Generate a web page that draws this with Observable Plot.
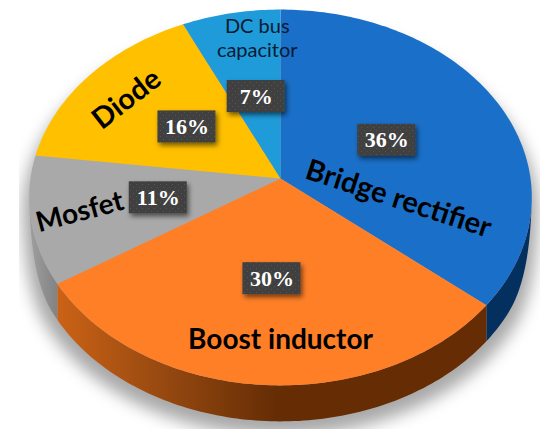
<!DOCTYPE html>
<html>
<head>
<meta charset="utf-8">
<script src="https://cdn.jsdelivr.net/npm/d3@7"></script>
<script src="https://cdn.jsdelivr.net/npm/@observablehq/plot@0.6"></script>
<style>html,body{margin:0;padding:0;background:#fff}svg{display:block}</style>
</head>
<body>
<div id="chart"></div>
<script>
// Data, clockwise from twelve o'clock
const names = ["Bridge rectifier", "Boost inductor", "Mosfet", "Diode", "DC bus capacitor"];
const shares = [36, 30, 11, 16, 7];

// Styles
const topColors = ["#1a6fc8", "#ff7f27", "#a9a9a9", "#ffc000", "#1f9bd9"];
const sideColors = ["#03305f", "url(#orangeSide)", "url(#graySide)", null, null];

// Where each name sits on the disc: degrees clockwise from the top, radius fraction, turn
const nameAngles = [102, 180, 258, 305, 353];
const nameRadii = [0.475, 0.772, 0.805, 0.8, 0.84];
const nameTurns = [18, 0, -15, -38, 0];

// Tilted-disc projection
const view = {cx: 280, cy: 178, a: 250, b: 186, k: 0.101, depth: 36};
function project(deg, r = 1) {
  const t = (deg * Math.PI) / 180, u = Math.sin(t), v = -Math.cos(t), w = 1 - view.k * v;
  return {x: view.cx + (r * view.a * u) / w, y: view.cy + (r * view.b * v) / w};
}
// The wall thins out toward the widest part of the disc
function wallDepth(deg) {
  const v = -Math.cos((deg * Math.PI) / 180);
  const s = Math.max(0, Math.min(1, (v - 0.15) / 0.35));
  return view.depth * s * (2 - s);
}
function arc(from, to) {
  const n = Math.max(2, Math.ceil(Math.abs(to - from)));
  return d3.range(n + 1).map((i) => {
    const deg = from + ((to - from) * i) / n;
    return {...project(deg), deg};
  });
}

let running = 0;
const slices = names.map((name, i) => {
  const start = (running / 100) * 360;
  running += shares[i];
  const end = (running / 100) * 360;
  return {name, share: shares[i], start, end, mid: (start + end) / 2, color: topColors[i], side: sideColors[i]};
});
const sideRange = [[96, slices[0].end], [slices[1].start, slices[1].end], [slices[2].start, 264]];

const facePoints = (s) => [{x: view.cx, y: view.cy}, ...arc(s.start, s.end)];
const sidePoints = ([a, b]) => {
  const rim = arc(a, b);
  return [...rim, ...rim.slice().reverse().map((p) => ({x: p.x, y: p.y + wallDepth(p.deg)}))];
};
const shadowOutline = arc(0, 360).map((p) => ({
  x: view.cx + (p.x - view.cx) * 1.025,
  y: p.y + wallDepth(p.deg) + 14
}));

const withFilter = (id) => (index, scales, values, dims, ctx, next) => {
  const g = next(index, scales, values, dims, ctx);
  g.setAttribute("filter", `url(#${id})`);
  return g;
};

function defs() {
  const d = d3.create("svg:defs");
  const grad = (id, x1, x2, stops) => {
    const g = d.append("linearGradient").attr("id", id).attr("gradientUnits", "userSpaceOnUse")
      .attr("x1", x1).attr("x2", x2).attr("y1", 0).attr("y2", 0);
    stops.forEach(([o, c]) => g.append("stop").attr("offset", o).attr("stop-color", c));
  };
  grad("orangeSide", 57, 275, [[0, "#cb6216"], [0.5, "#954810"], [1, "#662d05"]]);
  grad("graySide", 28, 62, [[0, "#a0a0a0"], [1, "#7d7d7d"]]);
  d.append("filter").attr("id", "discShadow").attr("filterUnits", "userSpaceOnUse")
    .attr("x", 19).attr("y", 0).attr("width", 520).attr("height", 428)
    .append("feGaussianBlur").attr("stdDeviation", 8);
  const shadow = d.append("filter").attr("id", "boxShadow").attr("x", "-30%").attr("y", "-30%")
    .attr("width", "160%").attr("height", "170%");
  shadow.append("feDropShadow").attr("dx", 2).attr("dy", 3).attr("stdDeviation", 2.5)
    .attr("flood-color", "#000").attr("flood-opacity", 0.55);
  const pat = d.append("pattern").attr("id", "dots").attr("patternUnits", "userSpaceOnUse")
    .attr("width", 6).attr("height", 6);
  pat.append("rect").attr("width", 6).attr("height", 6).attr("fill", "#3f3f3f");
  pat.append("rect").attr("x", 1).attr("y", 1).attr("width", 1).attr("height", 1).attr("fill", "#555");
  pat.append("rect").attr("x", 4).attr("y", 4).attr("width", 1).attr("height", 1).attr("fill", "#555");
  return d.node();
}

const boxes = slices.map((s) => ({...project(s.mid, 0.49), share: s.share}));

const marks = [
  defs,
  Plot.line(shadowOutline, {x: "x", y: "y", fill: "#000", fillOpacity: 0.34, stroke: "none", render: withFilter("discShadow")}),
  ...slices.map((s, i) => s.side && Plot.line(sidePoints(sideRange[i]), {x: "x", y: "y", fill: s.side, stroke: "none"})),
  ...slices.map((s) => Plot.line(facePoints(s), {x: "x", y: "y", fill: s.color, stroke: "none"})),
  Plot.rect(boxes, {
    x1: (d) => d.x - 29, x2: (d) => d.x + 29, y1: (d) => d.y - 17, y2: (d) => d.y + 15,
    fill: "url(#dots)", render: withFilter("boxShadow")
  }),
  Plot.text(boxes, {
    x: "x", y: "y", dy: -1, text: (d) => `${d.share}%`, fill: "#fff",
    fontFamily: "Liberation Serif", fontWeight: "bold", fontSize: 22
  }),
  ...slices.map((s, i) => {
    const p = project(nameAngles[i], nameRadii[i]);
    const small = i === 4;
    return Plot.text([p], {
      x: "x", y: "y", text: () => (small ? "DC bus\ncapacitor" : s.name),
      rotate: nameTurns[i], lineHeight: 1.2,
      fill: small ? "#0a1a33" : "#000",
      fontFamily: "Lato", fontWeight: small ? "normal" : "bold",
      fontSize: small ? 20 : [29, 28, 28, 29][i]
    });
  })
];

const chart = Plot.plot({
  width: 550, height: 439,
  margin: 0,
  x: {domain: [0, 550], range: [0, 550], axis: null},
  y: {domain: [0, 439], range: [0, 439], axis: null},
  style: {background: "#fff", overflow: "hidden"},
  marks: marks.filter(Boolean)
});
document.getElementById("chart").appendChild(chart);
</script>
</body>
</html>
